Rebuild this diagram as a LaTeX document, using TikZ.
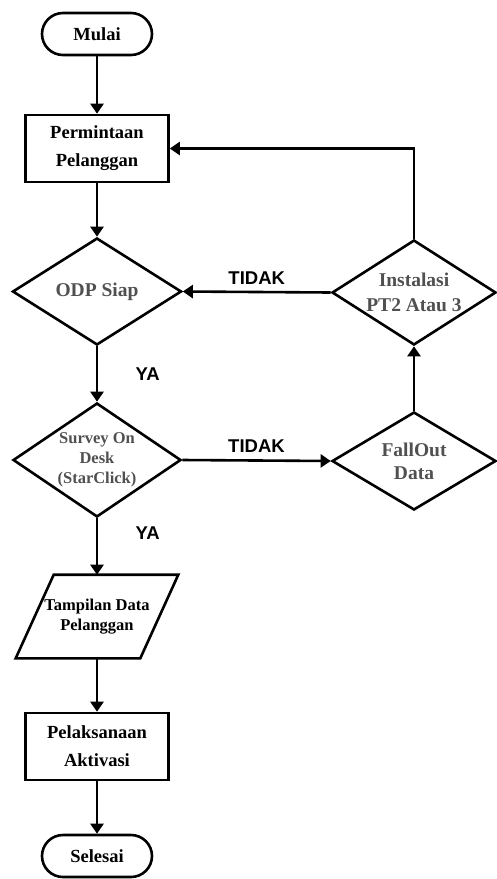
\documentclass[tikz,border=0pt]{standalone}
\usepackage{fontspec}
\setmainfont{Liberation Serif}
\newfontfamily\labelfont{Liberation Sans}
\usetikzlibrary{shapes.geometric, arrows.meta}
\definecolor{dtext}{HTML}{505050}

\begin{document}
\begin{tikzpicture}[x=1pt, y=-1pt, line width=2.6pt,
	term/.style = {draw, rounded corners=21pt, minimum width=110pt, minimum height=42pt,
		font=\bfseries\fontsize{18.5}{28}\selectfont},
	proc/.style = {draw, minimum width=143pt, minimum height=67pt, align=center,
		font=\bfseries\fontsize{18.5}{28}\selectfont},
	decide/.style = {draw, diamond, aspect=1.6, inner sep=0pt, align=center, text=dtext,
		font=\bfseries\fontsize{19.5}{25}\selectfont},
	flow/.style = {-{Triangle[width=13pt, length=10pt]}},
	answer/.style = {font=\labelfont\bfseries\fontsize{18.5}{22}\selectfont}]
\useasboundingbox (0, 0) rectangle (496, 879);

% left column
\node[term] (mulai) at (97, 34) {Mulai};
\node[proc] (minta) at (97, 148.5) {Permintaan\\Pelanggan};
\node[decide, minimum width=169pt, minimum height=107pt] (odp) at (97, 291.5) {ODP Siap};
\node[decide, minimum width=168pt, minimum height=114pt,
	font=\bfseries\fontsize{16.5}{20}\selectfont] (survey) at (97, 460) {Survey On\\Desk\\(StarClick)};
\node[align=center, minimum width=122pt, minimum height=81pt, inner sep=0pt, outer sep=1.3pt,
	font=\bfseries\fontsize{16.5}{20}\selectfont] (tampil) at (97, 616.5) {Tampilan Data\\Pelanggan};
\draw ([xshift=19pt]tampil.north west) -- ([xshift=19pt]tampil.north east)
	-- ([xshift=-19pt]tampil.south east) -- ([xshift=-19pt]tampil.south west) -- cycle;
\node[proc] (aktivasi) at (97, 746.5) {Pelaksanaan\\Aktivasi};
\node[term] (selesai) at (97, 856) {Selesai};

% right column
\node[decide, minimum width=164pt, minimum height=105pt] (inst) at (414, 292.5) {Instalasi\\PT2 Atau 3};
\node[decide, minimum width=164pt, minimum height=98pt,
	font=\bfseries\fontsize{19.5}{23}\selectfont] (fallout) at (414, 461) {FallOut\\Data};

% arrows
\draw[flow] (mulai) -- (minta);
\draw[flow] (minta) -- (odp);
\draw[flow] (odp) -- node[answer, pos=0.5, right=34pt] {YA} (survey);
\draw[flow] (survey.east) -- node[answer, above=3pt] {TIDAK} (fallout.west);
\draw[flow] (fallout) -- (inst);
\draw[flow] (inst.west) -- node[answer, above=3pt] {TIDAK} (odp.east);
\draw[flow] (inst.north) |- (minta.east);
\draw[flow] (survey) -- node[answer, pos=0.27, right=34pt] {YA} (tampil);
\draw[flow] (tampil) -- (aktivasi);
\draw[flow] (aktivasi) -- (selesai);
\end{tikzpicture}
\end{document}
